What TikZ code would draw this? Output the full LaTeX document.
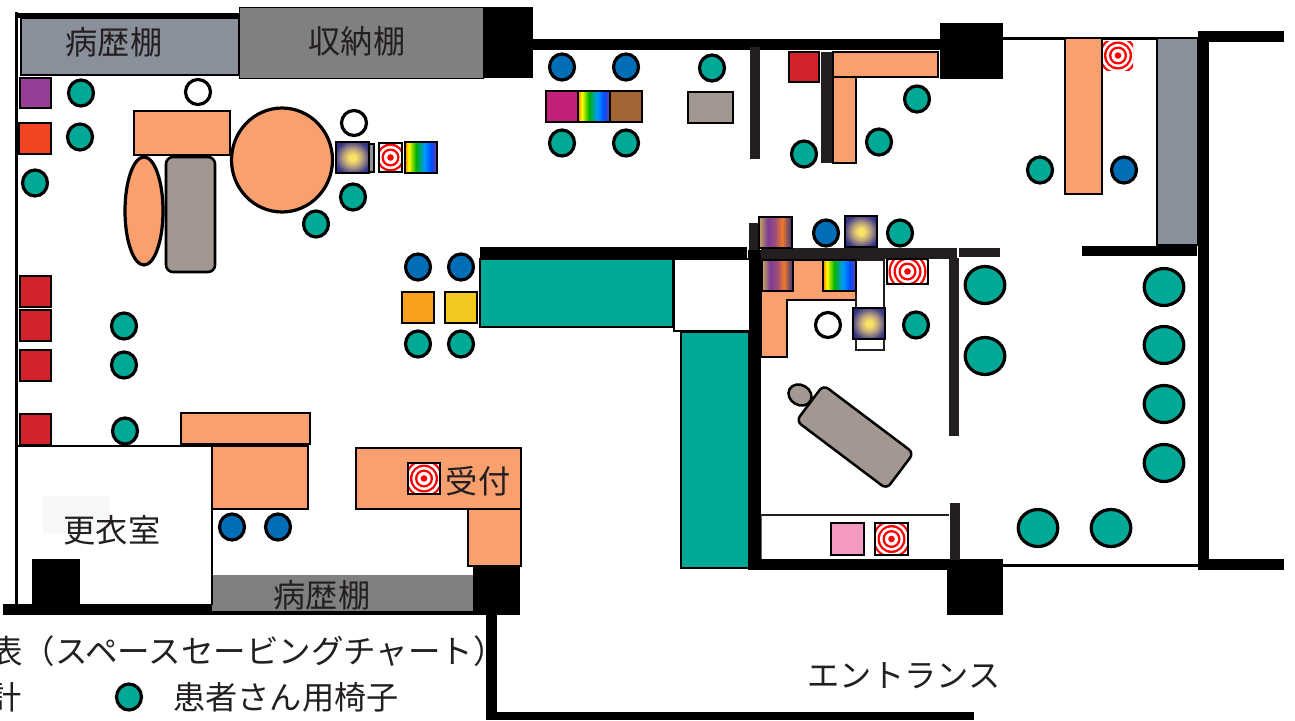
\documentclass[tikz,border=0pt]{standalone}
\usepackage{fontspec}
\setmainfont{Noto Sans CJK JP}
\usetikzlibrary{positioning}
\definecolor{tealcolor}{RGB}{0, 168, 150}
\definecolor{bluecolor}{RGB}{0, 109, 183}
\definecolor{orangecolor}{RGB}{250, 160, 110}
\definecolor{bedcolor}{RGB}{163, 151, 145}
\definecolor{shelfcolor}{RGB}{138, 143, 156}
\definecolor{redcolor}{RGB}{210, 35, 42}
\definecolor{inkcolor}{RGB}{35, 31, 32}
\definecolor{navycolor}{RGB}{50, 50, 135}
\definecolor{purplecolor}{RGB}{151, 63, 150}
\definecolor{scarletcolor}{RGB}{240, 69, 32}
\definecolor{ambercolor}{RGB}{250, 160, 30}
\definecolor{goldcolor}{RGB}{242, 200, 31}
\definecolor{magentacolor}{RGB}{194, 32, 123}
\definecolor{browncolor}{RGB}{164, 101, 52}
\definecolor{pinkcolor}{RGB}{244, 154, 193}
\definecolor{glowcolor}{RGB}{249, 226, 102}
\definecolor{tancolor}{RGB}{190, 165, 125}
\definecolor{olivecolor}{RGB}{200, 170, 90}
\definecolor{plumcolor}{RGB}{125, 60, 150}
\definecolor{sunsetcolor}{RGB}{240, 120, 40}
\pgfdeclarehorizontalshading{rainbowfill}{100bp}{color(0bp)=(orange); color(25bp)=(orange); color(31bp)=(yellow); color(42bp)=(green!70!black); color(55bp)=(cyan!60!blue); color(66bp)=(blue!70!cyan); color(75bp)=(plumcolor); color(100bp)=(plumcolor)}
\pgfdeclarehorizontalshading{stripefill}{100bp}{color(0bp)=(olivecolor); color(25bp)=(olivecolor); color(38bp)=(plumcolor); color(50bp)=(plumcolor!70!sunsetcolor); color(60bp)=(sunsetcolor); color(75bp)=(navycolor); color(100bp)=(navycolor)}
\pgfdeclareradialshading{glowfill}{\pgfpoint{0bp}{0bp}}{color(0bp)=(glowcolor); color(5bp)=(glowcolor); color(14bp)=(tancolor); color(28bp)=(navycolor); color(50bp)=(navycolor)}

\begin{document}
\begin{tikzpicture}[
    x=1pt, y=-1pt,
    wall/.style={fill=black},
    darkwall/.style={fill=inkcolor},
    furniture/.style={draw=black, line width=2.6pt},
    chair/.style={draw=black, line width=3.2pt},
    desk/.style={furniture, fill=orangecolor},
    bed/.style={furniture, fill=bedcolor},
    rainbowbox/.style={furniture, shading=rainbowfill, shading angle=0},
    stripebox/.style={furniture, shading=stripefill, shading angle=0},
    glowbox/.style={furniture, shading=glowfill},
    targetbox/.style={furniture, fill=red!85!black, path picture={
        \foreach \rad/\ringcolor in {22/white,19/red,16.7/white,14/red,11.7/white,9/red,6.6/white,3.3/red}
            \fill[\ringcolor] (path picture bounding box.center) circle (\rad);
    }},
    label/.style={inner sep=0pt, text=inkcolor, font=\fontsize{32.2}{32.2}\selectfont}
]
\useasboundingbox (0,0) rectangle (1295,720);

% Outer walls
\fill[black!3] (43,496) rectangle (110,533);
\fill[wall] (14.5,12) rectangle (18,610);
\fill[wall] (15,13) rectangle (240,18);
\fill[wall] (3,604) rectangle (520,615);
\fill[gray] (212,575) rectangle (475,611);
\fill[wall] (481,7) rectangle (533,78);
\fill[wall] (533,39) rectangle (940,50);
\fill[wall] (940,23) rectangle (1003,79);
\fill[wall] (1003,37) rectangle (1200,40);
\fill[wall] (1198,31) rectangle (1209,570);
\fill[wall] (1198,31) rectangle (1284,42);
\fill[wall] (1198,559) rectangle (1284,570);
\fill[wall] (1003,564) rectangle (1200,566.5);
\fill[wall] (1082,246) rectangle (1197,256);
\fill[wall] (32,559) rectangle (80,605);
\fill[wall] (473,566) rectangle (520,615);
\fill[wall] (486,615) rectangle (497,720);
\fill[wall] (486,712) rectangle (974,720);
\fill[wall] (947,559) rectangle (1003,615);
\fill[wall] (750,559) rectangle (950,570);
\fill[wall] (480,247) rectangle (747,259);
\fill[wall] (748,250) rectangle (761,570);

% Inner walls
\fill[darkwall] (750,47) rectangle (760,159);
\fill[darkwall] (821,52) rectangle (833,163);
\fill[darkwall] (749,223) rectangle (760,250);
\fill[darkwall] (761,248) rectangle (957,259);
\fill[darkwall] (959,248) rectangle (1000,257);
\fill[darkwall] (949,258) rectangle (959,436);
\fill[darkwall] (950,503) rectangle (960,560);
\draw[black, line width=2.8pt] (18,446) -- (212,446) -- (212,605);

% Shelves
\draw[furniture, fill=shelfcolor] (21,18) rectangle (239,75);
\draw[black, line width=1pt, fill=gray] (239,7) rectangle (483,78);
\draw[black, line width=2pt, fill=shelfcolor] (1157,38) rectangle (1198,245);
\draw[black, line width=1.5pt, fill=shelfcolor] (369,144) rectangle (374,172);
\draw[black, line width=2.5pt, fill=tealcolor] (480,259) rectangle (673,327);
\draw[black, line width=2.8pt, fill=white] (674,259) rectangle (750,331);
\draw[black, line width=2pt, fill=tealcolor] (681,332) rectangle (749,568);
\draw[inkcolor, line width=2.5pt] (761,515) -- (949,515);
\draw[inkcolor!70, line width=1pt] (761,515) -- (761,559);

% Desks
\draw[desk] (134,111) rectangle (230,155);
\draw[desk, chair] (144,211) ellipse (19 and 54);
\draw[desk, chair] (282,160) ellipse (50.5 and 52);
\draw[desk] (181,413) rectangle (310,444);
\draw[desk] (212,446) rectangle (308,509);
\draw[desk] (356,448) rectangle (521,509);
\draw[desk] (468,509) rectangle (521,566);
\draw[desk] (833,52) rectangle (938,77);
\draw[desk] (833,77) rectangle (856,163);
\draw[desk] (1065,38) rectangle (1102,194);
\draw[desk] (761,260) -- (856,260) -- (856,300) -- (787,300) -- (787,357) -- (761,357) -- cycle;
\draw[inkcolor, line width=2.5pt, fill=white] (856,260) -- (884,260) -- (884,350) -- (856,350) -- cycle;

% Beds
\draw[bed, rounded corners=7pt] (166,157) rectangle (215,272);
\draw[bed] (688,92) rectangle (733,123);
\draw[bed, line width=2.5pt, rotate around={-30:(800,395)}] (800,395) ellipse (12 and 10);
\node[bed, line width=2.5pt, rectangle, rounded corners=6pt, minimum width=113pt, minimum height=45pt, inner sep=0pt, rotate=-37] (tiltedbed) at (855,437) {};

% Equipment
\draw[furniture, fill=purplecolor] (20,78) rectangle (51,108);
\draw[furniture, fill=scarletcolor] (19,123) rectangle (51,154);
\foreach \ytop in {276,310,350,414}
    \draw[furniture, fill=redcolor] (20,\ytop) rectangle (51,\ytop+31);
\draw[furniture, fill=redcolor] (789,52) rectangle (819,82);
\draw[furniture, fill=ambercolor] (402,292) rectangle (434,323);
\draw[furniture, fill=goldcolor] (445,292) rectangle (477,323);
\draw[furniture, fill=magentacolor] (546,91) rectangle (578,122);
\draw[furniture, fill=browncolor] (610,91) rectangle (642,122);
\draw[furniture, fill=pinkcolor] (831,523) rectangle (864,555);

\draw[glowbox] (336,142) rectangle (369,173);
\draw[glowbox] (845,216) rectangle (877,247);
\draw[glowbox] (853,308) rectangle (885,339);
\draw[rainbowbox] (405,142) rectangle (437,173);
\draw[rainbowbox] (578,91) rectangle (610,122);
\draw[rainbowbox] (823,260) rectangle (856,291);
\draw[stripebox] (759,217) rectangle (792,248);
\draw[stripebox] (762,260) rectangle (793,291);
\draw[targetbox] (379,143) rectangle (402,172);
\draw[targetbox] (408,463) rectangle (440,494);
\draw[targetbox] (887,259) rectangle (928,284);
\draw[targetbox] (875,523) rectangle (908,555);
\draw[targetbox, draw=none] (1103,41) rectangle (1133,70);

% Chairs
\foreach \cx/\cy in {81/93,80/137,35/183,353/197,316/224,124/326,124/365,125/431,418/344,461/344,712/68,562/143,626/143,917/99,879/142,804/154,900/233,916/325,1040/170,129/697}
    \draw[chair, fill=tealcolor] (\cx,\cy) ellipse (12.5 and 13);
\foreach \cx/\cy in {418/267,461/267,232/527,278/527,562/67,626/67,826/233,1124/170}
    \draw[chair, fill=bluecolor] (\cx,\cy) ellipse (12.5 and 13);
\foreach \cx/\cy in {198/92,354/123,828/325}
    \draw[chair, fill=white] (\cx,\cy) ellipse (12.5 and 12.5);
\foreach \cx/\cy in {985/285,985/356,1164/287,1164/345,1164/404,1164/463,1038/528,1111/528}
    \draw[chair, fill=tealcolor] (\cx,\cy) ellipse (19.8 and 18.5);

% Labels
\node[label] (chartshelf) at (114,42) {病歴棚};
\node[label] (storage) at (357,41) {収納棚};
\node[label] (reception) at (478,481) {受付};
\node[label] (changing) at (112,530) {更衣室};
\node[label] (lowershelf) at (322,595) {病歴棚};
\node[label] (entrance) at (904,676) {エントランス};
\node[label, anchor=west] (chairlegend) at (173,697) {患者さん用椅子};
\node[label, anchor=east] (clocklegend) at (22,697) {計};
\node[label, anchor=west, font=\fontsize{32.5}{32.5}\selectfont] (legendtitle) at (-10,651) {表（スペースセービングチャート）};

\end{tikzpicture}
\end{document}
